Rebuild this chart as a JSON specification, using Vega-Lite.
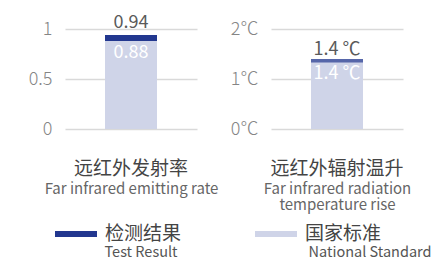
{
  "$schema": "https://vega.github.io/schema/vega-lite/v6.json",
  "background": "#ffffff",
  "padding": {"left": 28, "top": 9, "right": 0, "bottom": 0},
  "autosize": {"type": "pad"},
  "bounds": "flush",
  "spacing": 74,
  "config": {
    "font": "Noto Sans CJK SC",
    "view": {"stroke": null},
    "axisX": {"labelAngle": 0, "ticks": false, "domain": false, "grid": false, "labelFontSize": 19, "labelColor": "#444444", "labelPadding": 30, "labelLimit": 300, "titleFontSize": 15, "titleColor": "#666666", "titleFontWeight": "normal", "titlePadding": 3, "titleLineHeight": 16.5},
    "axisY": {"domain": false, "ticks": false, "labelFontSize": 18, "labelFontWeight": 300, "labelColor": "#858585", "labelPadding": 13, "gridColor": "#d9d9d9", "gridWidth": 1.5, "title": null}
  },
  "datasets": {
    "emit": [
      {"metric": "远红外发射率", "series": "检测结果", "en": "Test Result", "value": 0.94, "label": "0.94"},
      {"metric": "远红外发射率", "series": "国家标准", "en": "National Standard", "value": 0.88, "label": "0.88"}
    ],
    "temp": [
      {"metric": "远红外辐射温升", "series": "检测结果", "en": "Test Result", "value": 1.4, "label": "1.4 ℃"},
      {"metric": "远红外辐射温升", "series": "国家标准", "en": "National Standard", "value": 1.4, "label": "1.4 ℃"}
    ]
  },
  "hconcat": [
    {
      "width": 132, "height": 120,
      "data": {"name": "emit"},
      "encoding": {
        "x": {"field": "metric", "type": "nominal", "axis": {"title": "Far infrared emitting rate"}},
        "y": {"field": "value", "type": "quantitative", "stack": null, "scale": {"domain": [0, 1.2]}, "axis": {"values": [0, 0.5, 1], "format": "~g"}}
      },
      "layer": [
        {
          "mark": {"type": "bar", "width": 52},
          "encoding": {
            "color": {"field": "series", "type": "nominal", "scale": {"domain": ["检测结果", "国家标准"], "range": ["#22378f", "#cfd4e8"]},
              "legend": {"orient": "none", "direction": "horizontal", "legendX": -10, "legendY": 204, "title": null, "symbolType": "M-1,-0.14H1V0.14H-1Z", "symbolSize": 1764, "symbolStrokeWidth": 0, "labelFontSize": 19, "labelColor": "#444444", "labelOffset": 8, "columnPadding": 73, "labelLimit": 200}},
            "opacity": {"field": "en", "type": "nominal", "scale": {"domain": ["Test Result", "National Standard"], "range": [1, 1]},
              "legend": {"orient": "none", "direction": "horizontal", "legendX": 25, "legendY": 237, "title": null, "symbolSize": 0, "symbolOpacity": 0, "symbolStrokeWidth": 0, "labelFontSize": 14.5, "labelColor": "#555555", "labelOffset": 0, "columnPadding": 66, "gridAlign": "all", "labelLimit": 200}}
          }
        },
        {
          "transform": [{"filter": "datum.series === '检测结果'"}],
          "mark": {"type": "tick", "size": 52, "thickness": 4, "yOffset": 2, "color": "#22378f"}
        },
        {
          "transform": [{"filter": "datum.series === '检测结果'"}],
          "mark": {"type": "text", "baseline": "bottom", "dy": -3, "fontSize": 18, "color": "#5a5a5a"},
          "encoding": {"text": {"field": "label"}}
        },
        {
          "transform": [{"filter": "datum.series === '国家标准'"}],
          "mark": {"type": "text", "baseline": "top", "dy": 3, "fontSize": 18, "color": "#ffffff"},
          "encoding": {"text": {"field": "label"}}
        }
      ]
    },
    {
      "width": 132, "height": 120,
      "data": {"name": "temp"},
      "encoding": {
        "x": {"field": "metric", "type": "nominal", "axis": {"title": ["Far infrared radiation", "temperature rise"]}},
        "y": {"field": "value", "type": "quantitative", "stack": null, "scale": {"domain": [0, 2.4]}, "axis": {"values": [0, 1, 2], "labelExpr": "datum.label + '℃'"}}
      },
      "layer": [
        {
          "mark": {"type": "bar", "width": 52},
          "encoding": {
            "color": {"field": "series", "type": "nominal"},
            "opacity": {"field": "en", "type": "nominal"}
          }
        },
        {
          "transform": [{"filter": "datum.series === '检测结果'"}],
          "mark": {"type": "tick", "size": 52, "thickness": 3.5, "yOffset": 1.75, "color": "#22378f"}
        },
        {
          "transform": [{"filter": "datum.series === '检测结果'"}],
          "mark": {"type": "text", "baseline": "bottom", "dy": 0, "fontSize": 18, "color": "#5a5a5a"},
          "encoding": {"text": {"field": "label"}}
        },
        {
          "transform": [{"filter": "datum.series === '国家标准'"}],
          "mark": {"type": "text", "baseline": "top", "dy": 6, "fontSize": 18, "color": "#ffffff"},
          "encoding": {"text": {"field": "label"}}
        }
      ]
    }
  ],
  "resolve": {"scale": {"x": "independent", "y": "independent", "color": "shared", "opacity": "shared"}}
}
